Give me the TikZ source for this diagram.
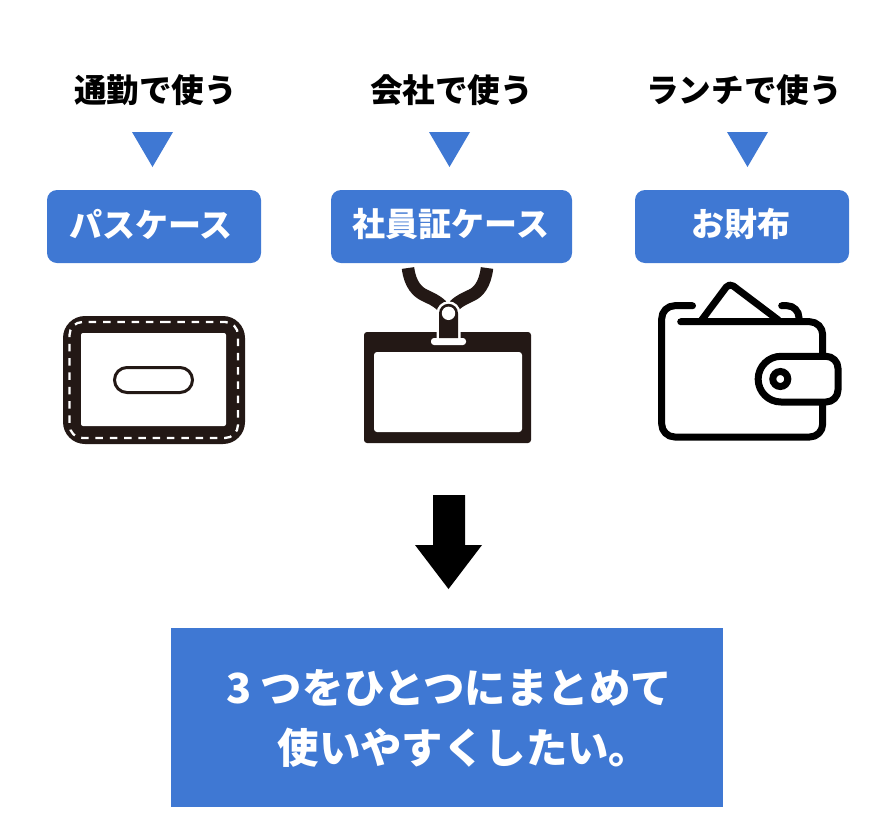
\documentclass[tikz,border=0pt]{standalone}
\usepackage{fontspec}
\newfontfamily\cjkheavy{Noto Sans CJK JP Black}
\definecolor{cardblue}{HTML}{3F78D3}
\definecolor{inkblack}{HTML}{231815}
\begin{document}
\begin{tikzpicture}[x=1pt,y=-1pt,
usage/.style={font=\cjkheavy\fontsize{32.6}{33}\selectfont,text=black,inner sep=0pt},
holder/.style={fill=cardblue,rounded corners=10pt,minimum height=73pt},
holdertext/.style={inner sep=0pt,text=white,font=\cjkheavy\fontsize{33}{33}\selectfont},
summarytext/.style={inner sep=0pt,text=white,font=\cjkheavy\fontsize{41.4}{42}\selectfont},
wline/.style={draw=black,line width=7pt,line cap=round,line join=round}
]
\useasboundingbox (0,0) rectangle (890,833);

\node (u1) [usage] at (155.5,90) {通勤で使う};
\node (u2) [usage] at (451.5,90) {会社で使う};
\node (u3) [usage] at (744,90) {ランチで使う};

\foreach \xc in {152.5,449.5,747.5}
  \fill[cardblue] (\xc-20.5,132) -- (\xc+20.5,132) -- (\xc,167) -- cycle;

\node (h1) [holder,minimum width=214pt] at (154,226.5) {};
\node (h2) [holder,minimum width=241pt] at (451.5,226.5) {};
\node (h3) [holder,minimum width=214pt] at (742,226.5) {};
\node (t1) [holdertext] at (151,224) {パスケース};
\node (t2) [holdertext] at (451,224) {社員証ケース};
\node (t3) [holdertext] at (741,224) {お財布};

% pass case
\fill[inkblack] (63,316) [rounded corners=22pt] -- (245,316) -- (245,444) -- (63,444) -- cycle;
\fill[white] (81,333) [rounded corners=2pt] -- (226,333) -- (226,426) -- (81,426) -- cycle;
\draw[white,line width=2.3pt,dash pattern=on 7.5pt off 6.8pt,rounded corners=13pt]
  (150,322) -- (238,322) -- (238,438) -- (69.5,438) -- (69.5,322) -- cycle;
\draw[inkblack,line width=3pt,rounded corners=12.5pt]
  (150,367.5) -- (192.5,367.5) -- (192.5,392.5) -- (114.5,392.5) -- (114.5,367.5) -- cycle;

% id badge
\draw[inkblack,line width=12.5pt] (408,268) .. controls (410,285) and (418,292) .. (424,295)
  .. controls (430,298) and (436,300) .. (442,306);
\draw[inkblack,line width=12.5pt] (487,268) .. controls (485,285) and (478,292) .. (472,295)
  .. controls (466,298) and (460,300) .. (454,306);
\fill[inkblack] (364,332) [rounded corners=3pt] -- (531,332) -- (531,443) -- (364,443) -- cycle;
\fill[white] (374,352) [rounded corners=3pt] -- (522,352) -- (522,432) -- (374,432) -- cycle;
\fill[white,rounded corners=3pt] (431,338) rectangle (466,345);
\fill[white] (436.5,340) -- (436.5,313.3) arc[start angle=180,end angle=360,radius=12] -- (460.5,340) -- cycle;
\fill[inkblack] (439,338) -- (439,313.3) arc[start angle=180,end angle=360,radius=9.5] -- (458,338) -- cycle;
\fill[white] (448.5,313.3) circle[radius=6.7];

% wallet
\draw[wline,rounded corners=13pt] (692.5,305.7) -- (661.7,305.7) -- (661.7,437) -- (822.7,437) -- (822.7,402);
\draw[wline,rounded corners=13pt] (822.7,356) -- (822.7,321.7) -- (680.7,321.7);
\draw[wline,rounded corners=5pt] (701.7,320) -- (729.3,283) -- (778.3,320);
\draw[wline,rounded corners=12pt] (781.7,305.7) -- (799,305.7) -- (799,319);
\draw[wline,fill=white] (781,356.3) -- (826,356.3) arc[start angle=270,end angle=360,radius=12]
  -- (838,390) arc[start angle=0,end angle=90,radius=12] -- (781,402)
  arc[start angle=90,end angle=270,radius=22.85] -- cycle;
\draw[black,line width=7pt] (780.3,379) circle[radius=7.5];

% big arrow
\fill[black] (433,495) -- (465,495) -- (465,545) -- (482,545) -- (448.5,589) -- (415,545) -- (433,545) -- cycle;

\node (s1) [fill=cardblue,minimum width=552pt,minimum height=179pt] at (447,717.5) {};
\node (l1) [summarytext] at (449,688) {3 つをひとつにまとめて};
\node (l2) [summarytext] at (464,748) {使いやすくしたい。};
\end{tikzpicture}
\end{document}
